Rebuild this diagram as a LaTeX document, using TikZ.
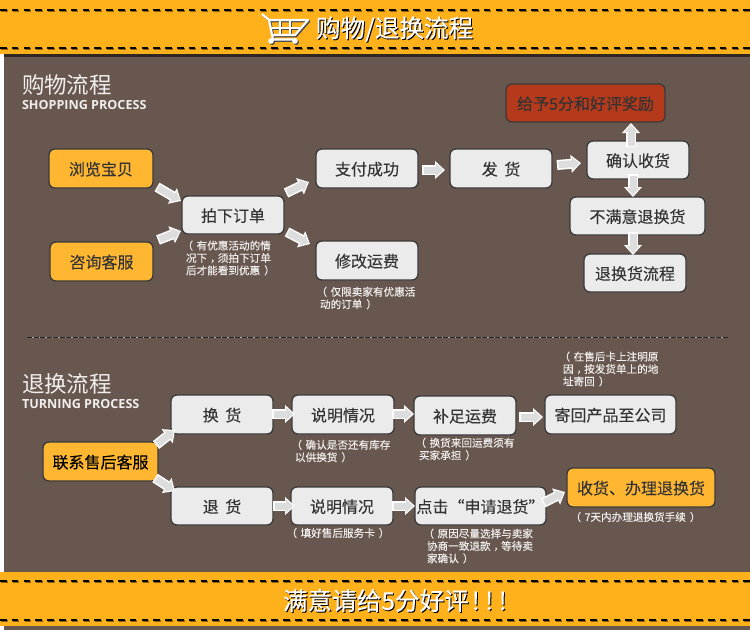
\documentclass[tikz,border=0pt]{standalone}
\usepackage{fontspec}
\setmainfont{Noto Sans CJK SC}
\newfontfamily\enfont{Open Sans}
\newfontfamily\notefont[FakeBold=0.25]{Noto Sans CJK SC}
\newfontfamily\boxfont[FakeBold=0.1]{Noto Sans CJK SC}
\newfontfamily\bannerfont[FakeBold=0.15]{Noto Sans CJK SC}
\usetikzlibrary{arrows.meta,calc}
\definecolor{bandorange}{HTML}{FFB11B}
\definecolor{bodybrown}{HTML}{67574F}
\definecolor{boxorange}{HTML}{FFB732}
\definecolor{boxgrey}{HTML}{EBEBEB}
\definecolor{boxred}{HTML}{B53A1C}
\definecolor{edgedark}{HTML}{3A3A3A}
\definecolor{arrowgrey}{HTML}{DDDDDD}
\definecolor{inkdark}{HTML}{333333}
\definecolor{notewhite}{HTML}{F0EEEC}
\newcommand{\lp}{\kern-3.5pt（\kern3.5pt}
\newcommand{\rp}{\kern4pt）\kern-4pt}
\newcommand{\cm}{\kern3pt，\kern-3pt}
\tikzset{
  basebox/.style={rounded corners=6pt,draw=edgedark,line width=1.3pt,text=inkdark,inner sep=0pt,outer sep=0pt,
    font={\boxfont\fontsize{16}{18}\selectfont},align=center,text height=15pt,text depth=1.5pt},
  greybox/.style={basebox,fill=boxgrey},
  orangebox/.style={basebox,fill=boxorange},
  redbox/.style={basebox,fill=boxred},
  blk/.style={line width=7pt,color=arrowgrey,shorten >=1.8pt,shorten <=1.5pt,
    -{Triangle[length=7pt,width=12.5pt]},
    preaction={draw=white,line width=10pt,shorten >=0pt,shorten <=0pt,
      -{Triangle[length=10pt,width=17.5pt]}}},
  note/.style={inner sep=0pt,outer sep=0pt,anchor=west,align=left,text=notewhite,
    font={\notefont\fontsize{10.6}{12.4}\selectfont}},
  headline/.style={inner sep=0pt,outer sep=0pt,anchor=west,text=notewhite,font={\fontsize{22.5}{24}\selectfont}},
  subhead/.style={inner sep=0pt,outer sep=0pt,anchor=west,text=notewhite,font={\enfont\bfseries\fontsize{12.6}{14}\selectfont}},
  banner/.style={inner sep=0pt,outer sep=0pt,text=white,font={\bannerfont\fontsize{24.6}{26}\selectfont}},
  bannershadow/.style={banner,text=black},
  stitch/.style={line width=2pt,dash pattern=on 6.5pt off 5.3pt},
}
\newcommand{\cartpath}{
  \draw[line width=2.2pt,line join=round] (262,14) -- (269,20) -- (273,39.5) -- (296,39.5);
  \draw[line width=2.2pt,line join=round] (269,20) -- (308,20) -- (295,35) -- (272,35);
  \draw[line width=1.3pt] (271,28) -- (302,28) (280,20) -- (280,35) (290,20) -- (290,35);
  \fill (271,41) circle (2.8);
  \fill (295,41) circle (2.8);
}
\begin{document}
\begin{tikzpicture}[x=1pt,y=-1pt]
\useasboundingbox (0,0) rectangle (750,630);
\fill[white] (0,0) rectangle (750,630);
\fill[bodybrown] (4,54) rectangle (750,630);
\fill[black!55!bodybrown] (4,54) rectangle (750,57);
\fill[bandorange] (0,0) rectangle (750,54);
\fill[bandorange] (0,572) rectangle (750,626);
% stitches
\foreach \yy in {9.5,47.7,581,620}{
  \draw[stitch,color=black!45!bandorange] (1,\yy+1.2) -- (750,\yy+1.2);
  \draw[stitch,color=black] (0,\yy) -- (750,\yy);
}
% divider
\draw[line width=1pt,color=notewhite!60!bodybrown] (27,337) -- (728,337);
\draw[line width=1pt,color=black!85,dash pattern=on 5pt off 1.5pt] (27,337) -- (728,337);
% cart
\begin{scope}[shift={(1.2,1.2)},color=black!70]\cartpath\end{scope}
\begin{scope}[color=white]\cartpath\end{scope}
% banners
\node[bannershadow,anchor=west] (titleshade) at (317,30) {购物/退换流程};
\node[banner,anchor=west] (title) at (316,29) {购物/退换流程};
\node[bannershadow,anchor=west] (footshade) at (284,601.5) {满意请给5分好评\kern3pt!\kern5.5pt!\kern5.5pt!};
\node[banner,anchor=west] (foot) at (283,600.5) {满意请给5分好评\kern3pt!\kern5.5pt!\kern5.5pt!};
% section headings
\node[headline] (h1) at (22,85) {购物流程};
\node[subhead] (s1) at (22,105) {SHOPPING PROCESS};
\node[headline] (h2) at (22,384) {退换流程};
\node[subhead] (s2) at (22,404) {TURNING PROCESS};
% shopping boxes
\node[orangebox,minimum width=104pt,minimum height=39pt] (browse) at (101,168.5) {浏览宝贝};
\node[orangebox,minimum width=103pt,minimum height=39pt] (consult) at (101.5,261.5) {咨询客服};
\node[greybox,minimum width=102pt,minimum height=38pt] (order) at (233,215) {拍下订单};
\node[greybox,minimum width=102pt,minimum height=39pt] (pay) at (367,168.5) {支付成功};
\node[greybox,minimum width=102pt,minimum height=39pt] (fee) at (367,260.5) {修改运费};
\node[greybox,minimum width=102pt,minimum height=39pt] (ship) at (501,168.5) {发\kern3pt\ 货};
\node[greybox,minimum width=102pt,minimum height=38pt] (confirm) at (638,160) {确认收货};
\node[redbox,minimum width=159pt,minimum height=38pt] (reward) at (585.5,103) {给予5分和好评奖励};
\node[greybox,minimum width=135pt,minimum height=38pt] (unsat) at (637.5,216) {不满意退换货};
\node[greybox,minimum width=102pt,minimum height=38pt] (retflow) at (635,273) {退换货流程};
% returning boxes
\node[orangebox,minimum width=115pt,minimum height=39pt,text=black] (contact) at (100.5,461.5) {联系售后客服};
\node[greybox,minimum width=102pt,minimum height=39pt] (exch) at (222,414.5) {换\kern3pt\ 货};
\node[greybox,minimum width=102pt,minimum height=38pt] (refund) at (222,506) {退\kern3pt\ 货};
\node[greybox,minimum width=102pt,minimum height=39pt] (expa) at (343,414.5) {说明情况};
\node[greybox,minimum width=102pt,minimum height=38pt] (expb) at (342,506) {说明情况};
\node[greybox,minimum width=102pt,minimum height=39pt] (topup) at (465,415.5) {补足运费};
\node[greybox,minimum width=131pt,minimum height=38pt] (click) at (480.5,506) {点击“申请退货”};
\node[greybox,minimum width=131pt,minimum height=39pt] (send) at (610.5,414.5) {寄回产品至公司};
\node[orangebox,minimum width=148pt,minimum height=39pt] (recv) at (641,487.5) {收货、办理退换货};
% notes
\node[note] (n1) at (186,258) {\lp 有优惠活动的情\\况下\cm 须拍下订单\\后才能看到优惠\rp};
\node[note] (n2) at (320,298) {\lp 仅限卖家有优惠活\\动的订单\rp};
\node[note] (n3) at (295,451) {\lp 确认是否还有库存\\以供换货\rp};
\node[note] (n4) at (419,449) {\lp 换货来回运费须有\\买家承担\rp};
\node[note] (n5) at (290,533) {\lp 填好售后服务卡\rp};
\node[note] (n6) at (427,546) {\lp 原因尽量选择与卖家\\协商一致退款\cm 等待卖\\家确认\rp};
\node[note] (n7) at (563,369) {\lp 在售后卡上注明原\\因\cm 按发货单上的地\\址寄回\rp};
\node[note] (n8) at (574,517) {\lp 7天内办理退换货手续\rp};
% arrows
\draw[blk] ($(browse.south east)+(4,-1)$) -- ($(order.north west)+(-1,5)$);
\draw[blk] ($(consult.north east)+(5,-2)$) -- ($(order.south west)+(-1,-3)$);
\draw[blk] ($(order.north east)+(2,-3)$) -- ($(pay.south west)+(-7,-6)$);
\draw[blk] ($(order.south east)+(3,-2)$) -- ($(fee.north west)+(-6,3)$);
\draw[blk] ($(pay.east)+(4,1.5)$) -- ($(ship.west)+(-5,1.5)$);
\draw[blk] ($(ship.east)+(5,-3.5)$) -- ($(confirm.west)+(-6,3)$);
\draw[blk] ($(confirm.north)+(-7,6)$) -- ($(reward.south)+(45.5,1)$);
\draw[blk] ($(confirm.south)+(-5,-5)$) -- ($(unsat.north)+(-4.5,0)$);
\draw[blk] ($(unsat.south)+(-4.5,-3)$) -- ($(retflow.north)+(-2,1)$);
\draw[blk] ($(contact.north east)+(-2,3)$) -- ($(exch.south west)+(4,-4)$);
\draw[blk] ($(contact.south east)+(-3,-3)$) -- ($(refund.north west)+(4,4)$);
\draw[blk] ($(exch.east)+(-1,-.5)$) -- ($(expa.west)+(3,-.5)$);
\draw[blk] (refund.east) -- ($(expb.west)+(4,0)$);
\draw[blk] ($(expa.east)+(-2,-.5)$) -- ($(topup.west)+(0,-1.5)$);
\draw[blk] ($(expb.east)+(-1,0)$) -- (click.west);
\draw[blk] ($(topup.east)+(3,1.5)$) -- ($(send.west)+(-2,2.5)$);
\draw[blk] ($(click.east)+(-3,-3)$) -- ($(recv.west)+(-2,4.5)$);
\end{tikzpicture}
\end{document}
